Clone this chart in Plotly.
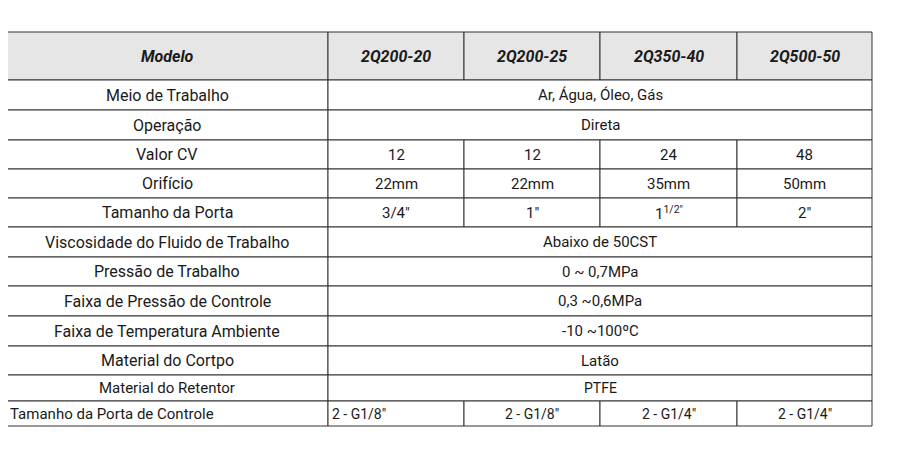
import plotly.graph_objects as go

models = ["2Q200-20", "2Q200-25", "2Q350-40", "2Q500-50"]
row_labels = [
    "Meio de Trabalho", "Operação", "Valor CV", "Orifício", "Tamanho da Porta",
    "Viscosidade do Fluido de Trabalho", "Pressão de Trabalho",
    "Faixa de Pressão de Controle", "Faixa de Temperatura Ambiente",
    "Material do Cortpo", "Material do Retentor", "Tamanho da Porta de Controle",
]
row_values = [
    ["Ar, Água, Óleo, Gás"],
    ["Direta"],
    ["12", "12", "24", "48"],
    ["22mm", "22mm", "35mm", "50mm"],
    ["3/4\"", "1\"", "1<sup>1/2\"</sup>", "2\""],
    ["Abaixo de 50CST"],
    ["0 ~ 0,7MPa"],
    ["0,3 ~0,6MPa"],
    ["-10 ~100ºC"],
    ["Latão"],
    ["PTFE"],
    ["2 - G1/8\"", "2 - G1/8\"", "2 - G1/4\"", "2 - G1/4\""],
]

# layout in page pixels
col_edges = [6, 328, 464, 600, 737, 872]
row_edges = [32, 80, 110, 140, 169, 198, 227, 257, 286, 316, 346, 375, 401, 426]
FONT = "Roboto"
LINE = "#333333"

fig = go.Figure()
shapes, annotations = [], []


def cell(x0, x1, y0, y1, text, fill="white", size=14, align="center", style=None):
    shapes.append(dict(type="rect", x0=x0, x1=x1, y0=y0, y1=y1, fillcolor=fill,
                       line=dict(color=LINE, width=1), layer="below"))
    x = (x0 + x1) / 2 if align == "center" else x0 + 2
    annotations.append(dict(x=x, y=(y0 + y1) / 2, text=text, showarrow=False,
                            xanchor="center" if align == "center" else "left",
                            font=dict(family=FONT, size=size, color="#1a1a1a", **(style or {}))))


hdr = dict(weight="bold", style="italic")
cell(col_edges[0], col_edges[1], row_edges[0], row_edges[1], "Modelo", "#e6e6e6", 16, style=hdr)
for i, m in enumerate(models):
    cell(col_edges[i + 1], col_edges[i + 2], row_edges[0], row_edges[1], m, "#e6e6e6", 16, style=hdr)

n = len(row_labels)
for r, (lab, vals) in enumerate(zip(row_labels, row_values)):
    y0, y1 = row_edges[r + 1], row_edges[r + 2]
    last = r == n - 1
    size = 15 if r >= n - 2 else 16
    cell(col_edges[0], col_edges[1], y0, y1, lab, size=size, align="left" if last else "center")
    vsize = 14 if r >= n - 2 else 15
    if len(vals) == 1:
        cell(col_edges[1], col_edges[-1], y0, y1, vals[0], size=vsize)
    else:
        for i, v in enumerate(vals):
            cell(col_edges[i + 1], col_edges[i + 2], y0, y1, v, size=vsize,
                 align="left" if (last and i == 0) else "center")

fig.update_layout(
    width=923, height=453, margin=dict(l=0, r=0, t=0, b=0),
    paper_bgcolor="white", plot_bgcolor="white", showlegend=False,
    xaxis=dict(range=[8, 931], visible=False, fixedrange=True),
    yaxis=dict(range=[461, 8], visible=False, fixedrange=True),
    shapes=shapes, annotations=annotations,
)
fig.write_html("out.html", config={"displayModeBar": False})
